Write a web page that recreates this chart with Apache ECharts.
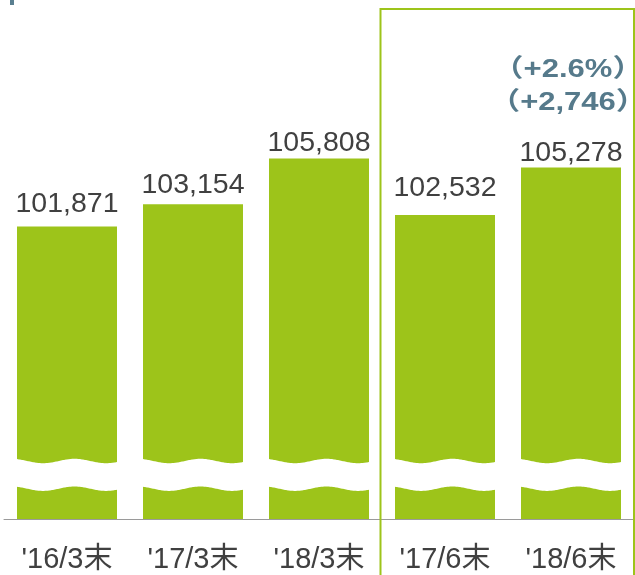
<!DOCTYPE html>
<html><head><meta charset="utf-8">
<script src="https://cdn.jsdelivr.net/npm/echarts@6/dist/echarts.min.js"></script>
<style>html,body{margin:0;padding:0;background:#fff}#c{width:635px;height:575px}</style>
</head><body><div id="c"></div>
<script>
const categories = ["'16/3末", "'17/3末", "'18/3末", "'17/6末", "'18/6末"];
const values = [101871, 103154, 105808, 102532, 105278];
const annotations = ['（+2.6%）', '（+2,746）'];
const yMin = 84943, yMax = 113761;

// label gaps above each bar (styling, as placed in the original)
const labelGap = [8, 5, 1, 13, 0.5];

const GREEN = '#9DC41A';
const TEXT = '#404040';
const NOTE = '#567A8B';
const FONT = '"Liberation Sans", Arial, "Noto Sans CJK JP", sans-serif';
const fmt = v => v.toLocaleString('en-US');

const chart = echarts.init(document.getElementById('c'), null, {renderer: 'canvas'});
chart.setOption({
  animation: false,
  backgroundColor: '#fff',
  grid: {left: 4, right: 1, top: 21, bottom: 54, containLabel: false},
  xAxis: {
    type: 'category', data: categories,
    axisLine: {lineStyle: {color: '#9a9a9a', width: 1}},
    axisTick: {show: false},
    axisLabel: {color: TEXT, fontSize: 29, margin: 27, fontFamily: FONT}
  },
  yAxis: {type: 'value', min: yMin, max: yMax, show: false, splitLine: {show: false}},
  series: [{
    type: 'bar', barWidth: 100,
    data: values.map((v, i) => ({value: v, label: {distance: labelGap[i]}})),
    itemStyle: {color: GREEN},
    label: {show: true, position: 'top', color: TEXT, fontSize: 28.5,
      fontFamily: FONT, formatter: p => fmt(p.value)}
  }]
});

function drawDecor() {
  const p0 = chart.convertToPixel({xAxisIndex: 0, yAxisIndex: 0}, [0, yMin]);
  const p1 = chart.convertToPixel({xAxisIndex: 0, yAxisIndex: 0}, [1, yMin]);
  const p4 = chart.convertToPixel({xAxisIndex: 0, yAxisIndex: 0}, [4, values[4]]);
  const cw = p1[0] - p0[0];
  const baseY = p0[1];
  const gridLeft = p0[0] - cw / 2;
  const gridRight = gridLeft + cw * categories.length;
  // wavy break band across the bars
  const P = cw / 2, A = 2.2, phase = gridLeft + 23.3;
  const topC = baseY - 58, botC = baseY - 30.3;
  const topPts = [], botPts = [];
  for (let x = 0; x <= 635; x += 1) {
    const s = A * Math.sin(2 * Math.PI * (x - phase) / P);
    topPts.push([x, topC + s]);
    botPts.push([x, botC + s]);
  }
  const band = topPts.concat(botPts.reverse());
  const boxL = gridLeft + cw * 3 - 1.5;
  const noteStyle = t => ({text: t, x: 0, y: 0, align: 'center', verticalAlign: 'middle',
    fill: NOTE, fontSize: 25, fontWeight: 'bold', fontFamily: FONT});
  chart.setOption({graphic: [
    {type: 'polygon', z: 100, shape: {points: band}, style: {fill: '#fff'}},
    {type: 'rect', z: 110, shape: {x: boxL, y: 9, width: gridRight - boxL, height: 620},
      style: {fill: 'none', stroke: GREEN, lineWidth: 2}},
    {type: 'rect', z: 110, shape: {x: 10, y: 0, width: 4, height: 5}, style: {fill: '#5a7f90'}},
    {type: 'text', z: 110, x: p4[0] - 3, y: p4[1] - 97.5, scaleX: 1.24, style: noteStyle(annotations[0])},
    {type: 'text', z: 110, x: p4[0] - 3, y: p4[1] - 64, scaleX: 1.24, style: noteStyle(annotations[1])}
  ]});
}
drawDecor();
</script></body></html>
